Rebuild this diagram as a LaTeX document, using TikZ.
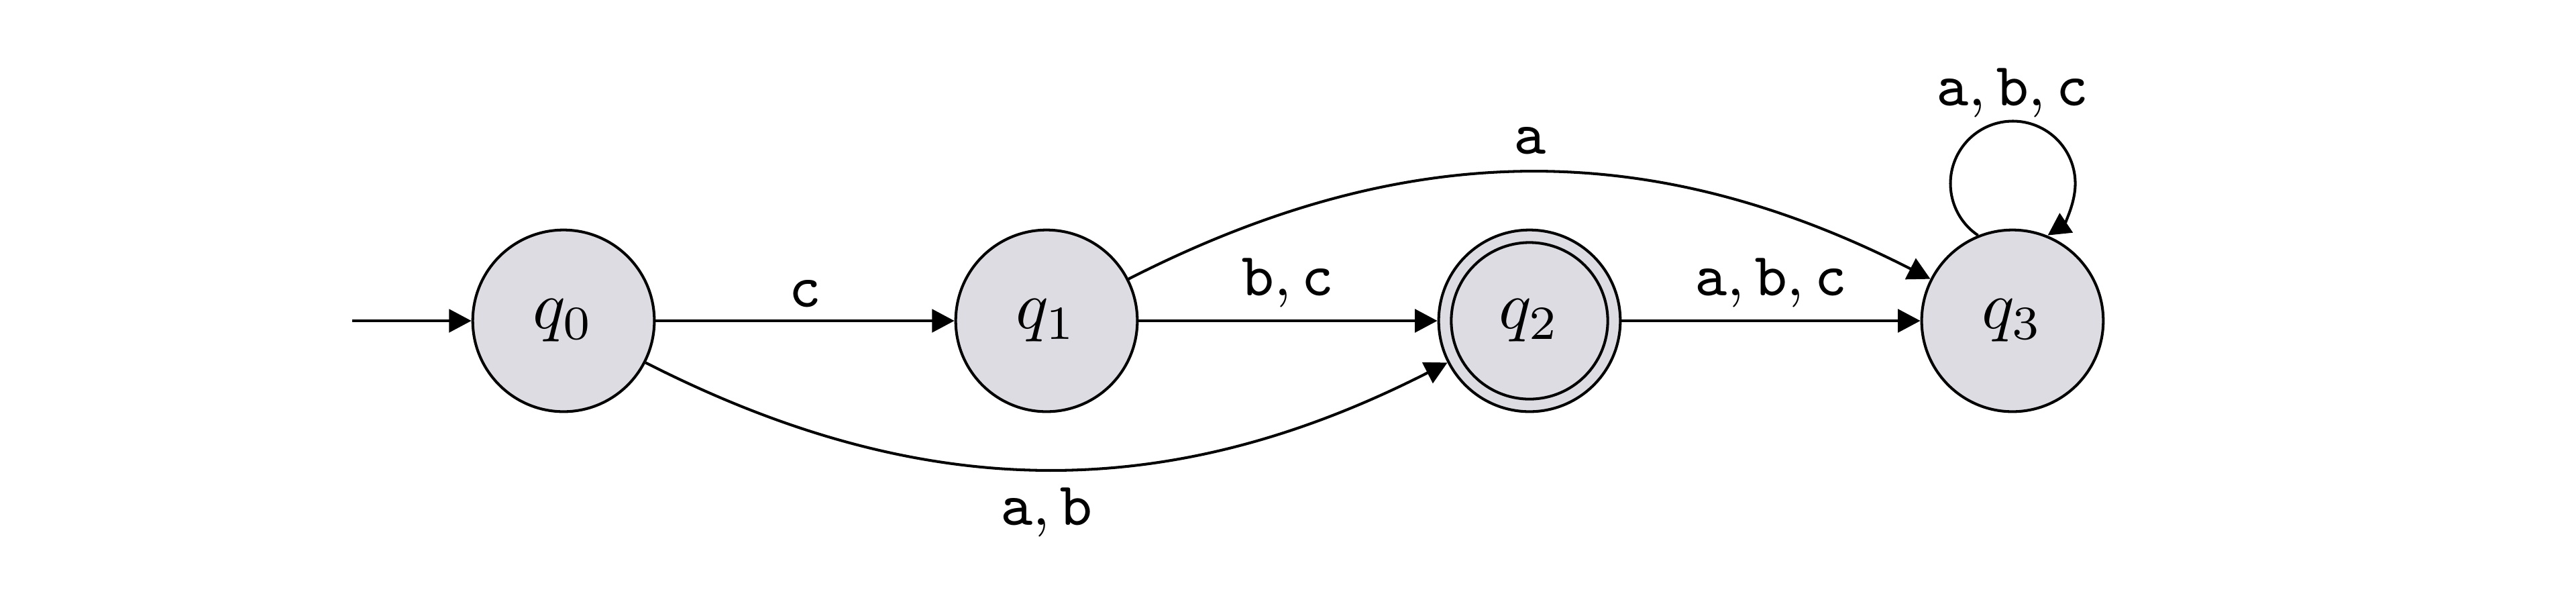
\documentclass[tikz,border=0pt]{standalone}
\usetikzlibrary{arrows.meta}
\definecolor{statefill}{RGB}{222,220,227}
\begin{document}
\begin{tikzpicture}[>={Triangle[length=3.3pt,width=3.4pt]},
		state/.style={circle,draw,fill=statefill,minimum size=0.94cm,inner sep=0pt},
		lbl/.style={font=\small,inner sep=2.5pt},
		declare function={d=2.5;}]
			\useasboundingbox (-2.917,-1.465) rectangle (10.417,1.66);
			\foreach \i in {0,...,3}{
				\node[state] (q\i) at ({d*\i},0) {$q_{\i}$};
			}
			\draw (q2) circle[radius=0.405cm];
			\coordinate (start) at (-1.094,0);
			\draw[->] (start)--(q0);
			\draw[->] (q0)--node[lbl,above,inner sep=1.8pt]{$\mathtt{c}$} (q1);
			\draw[->] (q1)--node[lbl,above,inner sep=1.8pt]{$\mathtt{b},\mathtt{c}$} (q2);
			\draw[->] (q2)--node[lbl,above,inner sep=1.8pt]{$\mathtt{a},\mathtt{b},\mathtt{c}$} (q3);
			\draw[->] (q1) to[bend left=27] node[lbl,above]{$\mathtt{a}$} (q3);
			\draw[->] (q0) to[bend right=27] node[lbl,below]{$\mathtt{a},\mathtt{b}$} (q2);
			\draw[->] (q3.112) arc[start angle=236,end angle=-56,radius=0.323cm];
			\path (q3)++(0,0.955) node[lbl,above]{$\mathtt{a},\mathtt{b},\mathtt{c}$};
		\end{tikzpicture}
\end{document}
